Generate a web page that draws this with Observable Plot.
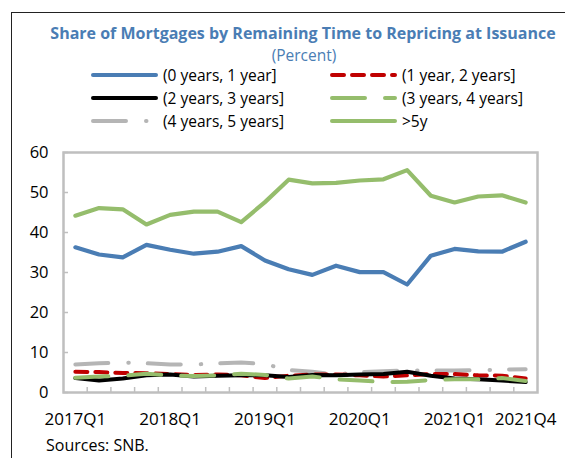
<!DOCTYPE html>
<html>
<head>
<meta charset="utf-8">
<script src="https://cdn.jsdelivr.net/npm/d3@7"></script>
<script src="https://cdn.jsdelivr.net/npm/@observablehq/plot@0.6"></script>
<style>
  html, body { margin: 0; padding: 0; background: #fff; }
  #wrap { position: relative; width: 565px; height: 458px; overflow: hidden; background: #fff; font-family: "Open Sans", sans-serif; }
  #border { position: absolute; left: 11px; top: 12px; width: 700px; height: 600px; border-left: 1.5px solid #222; border-top: 1.5px solid #222; z-index: 5; pointer-events: none; }
  #title { position: absolute; left: 3px; width: 600px; top: 24px; line-height: 18px; text-align: center; font-size: 16px; font-weight: 700; color: #4a7db4; white-space: nowrap; }
  #subtitle { position: absolute; left: 4px; width: 600px; top: 46px; line-height: 18px; text-align: center; font-size: 15.5px; color: #4a7db4; }
  .leg { position: absolute; height: 20px; display: flex; align-items: center; font-size: 15.5px; color: #000; white-space: nowrap; }
  .leg svg { display: block; margin-right: 5px; }
  #chart { position: absolute; left: 0; top: 140px; }
  #source { position: absolute; left: 46px; top: 436px; font-size: 16px; line-height: 18px; color: #000; white-space: nowrap; }
</style>
</head>
<body>
<div id="wrap">
  <div id="title">Share of Mortgages by Remaining Time to Repricing at Issuance</div>
  <div id="subtitle">(Percent)</div>
  <div id="legend"></div>
  <div id="chart"></div>
  <div id="source">Sources: SNB.</div>
  <div id="border"></div>
</div>
<script>
// ---- data ----
const quarters = [
  "2017Q1","2017Q2","2017Q3","2017Q4",
  "2018Q1","2018Q2","2018Q3","2018Q4",
  "2019Q1","2019Q2","2019Q3","2019Q4",
  "2020Q1","2020Q2","2020Q3","2020Q4",
  "2021Q1","2021Q2","2021Q3","2021Q4"
];
const xTickLabels = ["2017Q1","2018Q1","2019Q1","2020Q1","2021Q1","2021Q4"];
const yTicks = [0, 10, 20, 30, 40, 50, 60];

const seriesNames = ["(0 years, 1 year]", "(1 year, 2 years]", "(2 years, 3 years]", "(3 years, 4 years]", "(4 years, 5 years]", ">5y"];

const y0to1 = [36.3, 34.5, 33.8, 36.9, 35.7, 34.7, 35.2, 36.6, 33.0, 30.8, 29.4, 31.7, 30.1, 30.1, 27.0, 34.2, 35.9, 35.3, 35.2, 37.7];
const y1to2 = [5.2, 5.1, 4.9, 4.8, 4.6, 4.4, 4.5, 4.3, 3.6, 4.2, 4.5, 4.5, 4.3, 4.0, 4.3, 4.6, 4.6, 4.3, 4.2, 3.5];
const y2to3 = [3.6, 3.0, 3.5, 4.3, 4.5, 4.0, 4.2, 4.3, 4.3, 3.9, 4.4, 4.3, 4.5, 4.6, 5.2, 4.2, 3.5, 3.3, 3.0, 2.6];
const y3to4 = [3.7, 4.0, 4.2, 4.7, 4.3, 4.1, 4.3, 4.7, 4.4, 3.5, 4.0, 3.3, 3.0, 2.6, 2.7, 3.1, 3.3, 3.3, 3.6, 2.9];
const y4to5 = [7.0, 7.3, 7.5, 7.3, 7.0, 7.0, 7.3, 7.5, 7.1, 5.6, 5.2, 4.5, 5.1, 5.3, 5.5, 5.5, 5.5, 5.6, 5.7, 5.8];
const yOver5 = [44.2, 46.1, 45.8, 42.0, 44.4, 45.2, 45.2, 42.6, 47.6, 53.2, 52.3, 52.4, 53.0, 53.3, 55.6, 49.2, 47.5, 49.0, 49.3, 47.5];

// ---- styles ----
const styles = [
  {values: y0to1, color: "#4a7db4", dash: null, width: 4.2},
  {values: y1to2, color: "#c00000", dash: "12,8", width: 4},
  {values: y2to3, color: "#000000", dash: null, width: 4},
  {values: y3to4, color: "#95bd6c", dash: "33,20", width: 4},
  {values: y4to5, color: "#b5b5b5", dash: "33,20,0.5,19", width: 4},
  {values: yOver5, color: "#95bd6c", dash: null, width: 4.2}
];
const series = seriesNames.map((name, k) => ({name, ...styles[k]}));

// ---- legend ----
const legend = document.getElementById("legend");
const legPos = [
  {left: 91, top: 65}, {left: 330, top: 65},
  {left: 91, top: 88}, {left: 330, top: 88},
  {left: 91, top: 111}, {left: 330, top: 111}
];
series.forEach((s, k) => {
  const d = document.createElement("div");
  d.className = "leg";
  d.style.left = legPos[k].left + "px";
  d.style.top = legPos[k].top + "px";
  const ns = "http://www.w3.org/2000/svg";
  const sv = document.createElementNS(ns, "svg");
  sv.setAttribute("width", 67); sv.setAttribute("height", 8);
  const ln = document.createElementNS(ns, "line");
  ln.setAttribute("x1", 2); ln.setAttribute("x2", 65);
  ln.setAttribute("y1", 4); ln.setAttribute("y2", 4);
  ln.setAttribute("stroke", s.color);
  ln.setAttribute("stroke-width", 4);
  ln.setAttribute("stroke-linecap", "round");
  if (s.dash) ln.setAttribute("stroke-dasharray", s.dash);
  sv.appendChild(ln);
  d.appendChild(sv);
  const t = document.createElement("span");
  t.textContent = s.name;
  d.appendChild(t);
  legend.appendChild(d);
});

// ---- chart ----
const boundaries = d3.range(quarters.length - 1).map(i => i + 0.5);
const labelIdx = xTickLabels.map(q => quarters.indexOf(q));

const drawOrder = [0, 5, 4, 1, 2, 3];
const lineMarks = drawOrder.map(k => {
  const s = series[k];
  const data = s.values.map((v, i) => ({i, v}));
  return Plot.line(data, {
    x: "i", y: "v",
    stroke: s.color, strokeWidth: s.width,
    strokeDasharray: s.dash || undefined,
    strokeLinecap: "round", strokeLinejoin: "round"
  });
});

const chart = Plot.plot({
  width: 565, height: 300,
  marginTop: 12, marginBottom: 48, marginLeft: 63, marginRight: 28,
  x: {type: "linear", domain: [-0.5, quarters.length - 0.5]},
  y: {domain: [0, 60]},
  style: {fontFamily: "'Open Sans', sans-serif", fontSize: "16.5px", color: "#000", background: "transparent", overflow: "visible"},
  marks: [
    Plot.axisY({ticks: yTicks, tickSize: -5, stroke: "#bfbfbf", strokeWidth: 1.5, tickFormat: () => "", label: null}),
    Plot.axisX({ticks: boundaries, tickSize: -5, stroke: "#bfbfbf", strokeWidth: 1.5, tickFormat: () => "", label: null}),
    Plot.frame({stroke: "#bfbfbf", strokeWidth: 2.5}),
    Plot.axisY({ticks: yTicks, tickSize: 0, tickPadding: 15, label: null, fill: "#000"}),
    Plot.axisX({ticks: labelIdx, tickSize: 0, tickPadding: 20, tickFormat: i => quarters[i], label: null, fill: "#000", fontSize: 17}),
    ...lineMarks
  ]
});
document.getElementById("chart").appendChild(chart);
</script>
</body>
</html>
